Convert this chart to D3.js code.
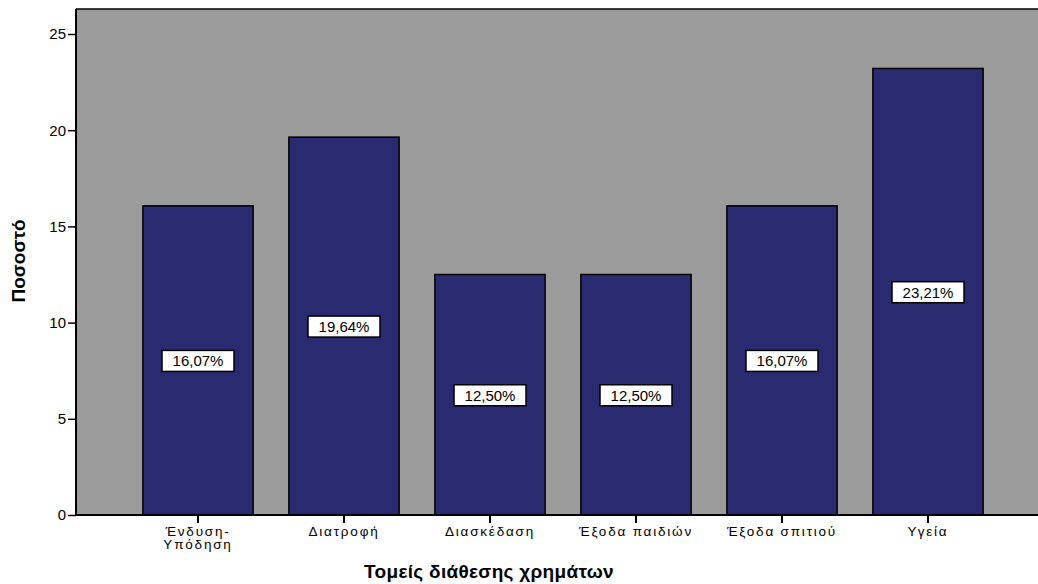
<!DOCTYPE html>
<html>
<head>
<meta charset="utf-8">
<script src="https://cdn.jsdelivr.net/npm/d3@7"></script>
<style>
  body { margin: 0; background: #fff; }
  text { font-family: "Liberation Sans", Arial, sans-serif; }
</style>
</head>
<body>
<div id="chart"></div>
<script>
// data
var categories = ["Ένδυση-Υπόδηση", "Διατροφή", "Διασκέδαση", "Έξοδα παιδιών", "Έξοδα σπιτιού", "Υγεία"];
var catLines = [["Ένδυση-", "Υπόδηση"], ["Διατροφή"], ["Διασκέδαση"], ["Έξοδα παιδιών"], ["Έξοδα σπιτιού"], ["Υγεία"]];
var percents = [16.07, 19.64, 12.50, 12.50, 16.07, 23.21];
var yTicks = [0, 5, 10, 15, 20, 25];

var width = 1038, height = 584;
var plotLeft = 76, plotTop = 9, plotBottom = 515, plotRight = 1038;

var svg = d3.select("#chart").append("svg")
    .attr("width", width)
    .attr("height", height);

var y = d3.scaleLinear().domain([0, 25]).range([plotBottom, 34]);
var x = d3.scaleBand().domain(categories)
    .range([125, 1001])
    .paddingInner(0.245)
    .paddingOuter(0.1225);

// plot background
svg.append("rect")
    .attr("x", plotLeft).attr("y", plotTop)
    .attr("width", plotRight - plotLeft).attr("height", plotBottom - plotTop)
    .style("fill", "#9b9b9b");

// bars
svg.selectAll(".bar").data(percents).enter().append("rect")
    .attr("class", "bar")
    .attr("x", function (d, i) { return x(categories[i]); })
    .attr("y", function (d) { return y(d); })
    .attr("width", x.bandwidth())
    .attr("height", function (d) { return y(0) - y(d); })
    .style("fill", "#292a70")
    .style("stroke", "#000")
    .style("stroke-width", 1.5);

// frame lines
svg.append("line").attr("x1", plotLeft).attr("x2", plotRight).attr("y1", plotTop).attr("y2", plotTop)
    .style("stroke", "#000").style("stroke-width", 1.5);
svg.append("line").attr("x1", plotLeft).attr("x2", plotLeft).attr("y1", plotTop).attr("y2", plotBottom)
    .style("stroke", "#000").style("stroke-width", 2);
svg.append("line").attr("x1", plotLeft).attr("x2", plotRight).attr("y1", plotBottom).attr("y2", plotBottom)
    .style("stroke", "#000").style("stroke-width", 2);

// y axis
var yAxis = d3.axisLeft(y).tickValues(yTicks).tickSize(8).tickPadding(2);
var gy = svg.append("g").attr("transform", "translate(" + plotLeft + ",0)").call(yAxis);
gy.select(".domain").remove();
gy.selectAll(".tick line").style("stroke", "#000").style("stroke-width", 1.5);
gy.selectAll(".tick text").style("font-size", "15px").style("fill", "#000");

// x axis
var xAxis = d3.axisBottom(x).tickSize(8).tickFormat("");
var gx = svg.append("g").attr("transform", "translate(0," + plotBottom + ")").call(xAxis);
gx.select(".domain").remove();
gx.selectAll(".tick line").style("stroke", "#000").style("stroke-width", 2);

// category labels, one text per line
catLines.forEach(function (lines, i) {
    lines.forEach(function (s, j) {
        svg.append("text")
            .attr("class", "xlab")
            .attr("x", x(categories[i]) + x.bandwidth() / 2)
            .attr("y", plotBottom + 21 + j * 13)
            .attr("text-anchor", "middle")
            .style("font-size", "13.5px")
            .style("letter-spacing", "1.8px")
            .text(s);
    });
});

// value labels
var lab = svg.selectAll(".vlab").data(percents).enter().append("g")
    .attr("class", "vlab")
    .attr("transform", function (d, i) {
        return "translate(" + (x(categories[i]) + x.bandwidth() / 2) + "," + y(d / 2) + ")";
    });
lab.append("rect")
    .attr("x", -36).attr("y", -10).attr("width", 72).attr("height", 21)
    .style("fill", "#fff").style("stroke", "#000").style("stroke-width", 1.5);
lab.append("text")
    .attr("text-anchor", "middle")
    .attr("y", 6)
    .style("font-size", "15px")
    .text(function (d) { return d.toFixed(2).replace(".", ",") + "%"; });

// axis titles
svg.append("text")
    .attr("x", 489).attr("y", 578)
    .attr("text-anchor", "middle")
    .style("font-size", "19px")
    .style("font-weight", "bold")
    .style("letter-spacing", "0.3px")
    .text("Τομείς διάθεσης χρημάτων");

svg.append("text")
    .attr("transform", "translate(25,261) rotate(-90)")
    .attr("text-anchor", "middle")
    .style("font-size", "19px")
    .style("font-weight", "bold")
    .text("Ποσοστό");
</script>
</body>
</html>
